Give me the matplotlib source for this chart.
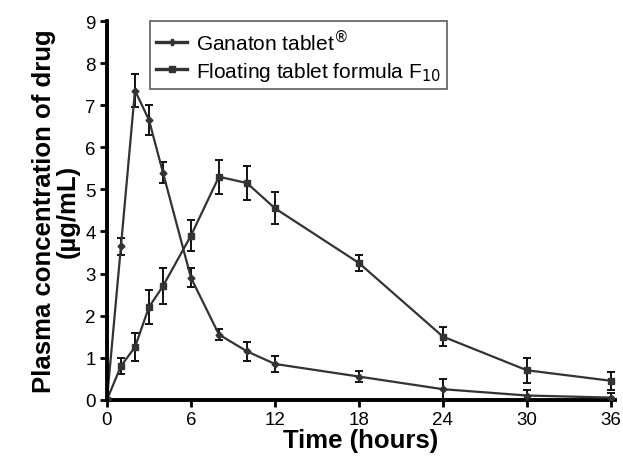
import matplotlib.pyplot as plt
from matplotlib.lines import Line2D

plt.rcParams['font.family'] = ['Liberation Sans', 'DejaVu Sans']

# sampling times (hours)
time_h = [0, 1, 2, 3, 4, 6, 8, 10, 12, 18, 24, 30, 36]

# Ganaton tablet
ganaton = [0, 3.65, 7.35, 6.65, 5.4, 2.9, 1.55, 1.15, 0.85, 0.55, 0.25, 0.1, 0.05]
ganaton_err = [0, 0.2, 0.4, 0.35, 0.25, 0.22, 0.13, 0.22, 0.2, 0.13, 0.25, 0.12, 0.1]

# floating tablet formula F10
floating = [0, 0.8, 1.25, 2.2, 2.7, 3.9, 5.3, 5.15, 4.55, 3.25, 1.5, 0.7, 0.45]
floating_err = [0, 0.18, 0.33, 0.4, 0.42, 0.37, 0.4, 0.4, 0.38, 0.18, 0.22, 0.3, 0.22]

col = '#333333'

fig = plt.figure(figsize=(6.23, 4.64), dpi=100)
ax = fig.add_axes([0.1717, 0.1364, 0.8156, 0.816])

ax.errorbar(time_h, ganaton, yerr=ganaton_err, color=col, lw=1.6,
            marker='D', ms=3.5, ecolor='#111111', elinewidth=1.4,
            capsize=3, capthick=1.4)
ax.errorbar(time_h, floating, yerr=floating_err, color=col, lw=1.6,
            marker='s', ms=5, ecolor='#111111', elinewidth=1.4,
            capsize=3, capthick=1.4)

ax.set_xlim(0, 36.3)
ax.set_ylim(0, 9)
ax.set_xticks([0, 6, 12, 18, 24, 30, 36])
ax.set_yticks(range(0, 10))
ax.tick_params(labelsize=13.5, width=2, length=5, direction='out', pad=3)
for s in ['top', 'right']:
    ax.spines[s].set_visible(False)
for s in ['left', 'bottom']:
    ax.spines[s].set_linewidth(2.8)
ax.spines['bottom'].set_zorder(0)

ax.set_xlabel('Time (hours)', fontsize=18.5, fontweight='bold', labelpad=0)
ax.set_ylabel('Plasma concentration of drug\n(\u00b5g/mL)', fontsize=18.5,
              fontweight='bold', linespacing=1.0, labelpad=4)

handles = [
    Line2D([], [], color=col, lw=2.4, marker='P', ms=4),
    Line2D([], [], color=col, lw=2.4, marker='s', ms=5),
]
labels = ['Ganaton tablet$^{\u00ae}$', 'Floating tablet formula F$_{10}$']
leg = ax.legend(handles, labels, loc='upper left', bbox_to_anchor=(0.0846, 1.0),
                fontsize=15, frameon=True, fancybox=False, edgecolor='#333333',
                handlelength=1.5, borderpad=0.3, labelspacing=0.3,
                handletextpad=0.4, borderaxespad=0)
leg.get_frame().set_linewidth(1.2)

plt.savefig('out.png', dpi=100)
